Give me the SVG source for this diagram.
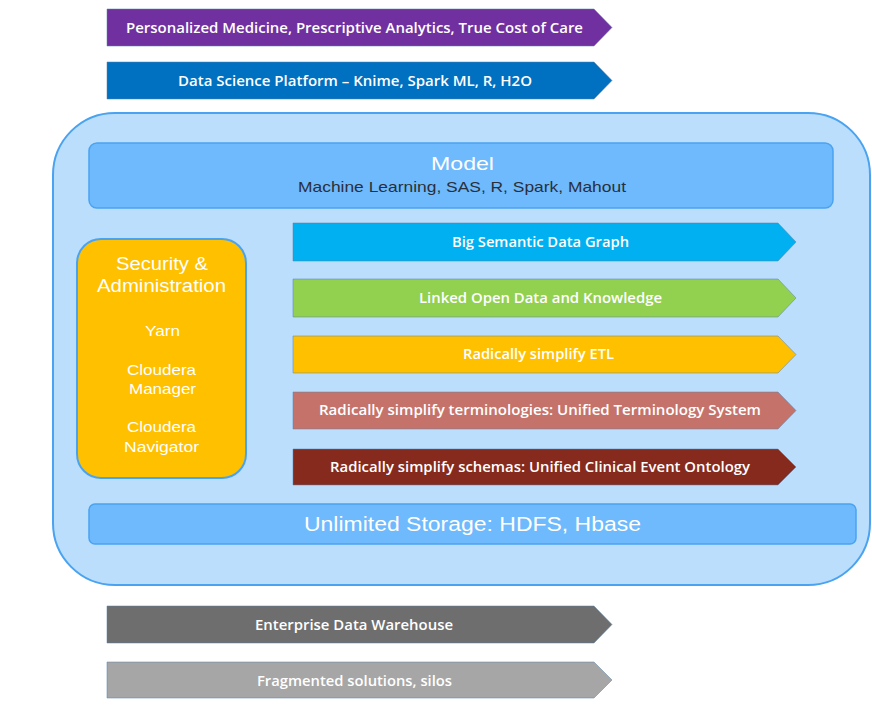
<svg xmlns="http://www.w3.org/2000/svg" width="872" height="707" viewBox="0 0 872 707">
<style>
.at{font-family:"Open Sans","Noto Sans",sans-serif;font-size:14px;font-weight:600;fill:#fff;text-anchor:middle}
.ht{font-family:"Liberation Sans",Arial,sans-serif;fill:#fff;text-anchor:middle}
.arr{stroke:#5a7fa8;stroke-width:1;stroke-opacity:0.5}
</style>
<rect width="872" height="707" fill="#fff"/>
<g id="n-personalized">
<polygon class="arr" points="107,9 594,9 612,27.5 594,46 107,46" fill="#7030A0"/>
<text class="at" x="354.5" y="32.5" textLength="457" lengthAdjust="spacingAndGlyphs">Personalized Medicine, Prescriptive Analytics, True Cost of Care</text>
</g>
<g id="n-datascience">
<polygon class="arr" points="107,62 594,62 612,80.5 594,99 107,99" fill="#0070C0"/>
<text class="at" x="355" y="85.5" textLength="354" lengthAdjust="spacingAndGlyphs">Data Science Platform – Knime, Spark ML, R, H2O</text>
</g>
<g id="n-container">
<rect x="53" y="113" width="817" height="472" rx="62" fill="#BBDEFC" stroke="#4AA3F0" stroke-width="2"/>
</g>
<g id="n-model">
<rect x="89" y="143" width="744" height="65" rx="8" fill="#6EBAFD" stroke="#4AA3F0" stroke-width="1.5"/>
<text class="ht" x="462.5" y="170" font-size="19" textLength="63" lengthAdjust="spacingAndGlyphs">Model</text>
<text class="ht" x="462" y="192" font-size="15" textLength="328" lengthAdjust="spacingAndGlyphs" style="fill:#2a2f3a">Machine Learning, SAS, R, Spark, Mahout</text>
</g>
<g id="n-security">
<rect x="77" y="239" width="169" height="239" rx="24" fill="#FFC000" stroke="#4AA3F0" stroke-width="2"/>
<text class="ht" x="162" y="270" font-size="18" textLength="92" lengthAdjust="spacingAndGlyphs">Security &amp;</text>
<text class="ht" x="161.5" y="292" font-size="18" textLength="129" lengthAdjust="spacingAndGlyphs">Administration</text>
<text class="ht" x="162.5" y="336" font-size="14.5" textLength="35" lengthAdjust="spacingAndGlyphs">Yarn</text>
<text class="ht" x="161.5" y="375" font-size="14.5" textLength="69" lengthAdjust="spacingAndGlyphs">Cloudera</text>
<text class="ht" x="162.5" y="394" font-size="14.5" textLength="67" lengthAdjust="spacingAndGlyphs">Manager</text>
<text class="ht" x="161.5" y="432" font-size="14.5" textLength="69" lengthAdjust="spacingAndGlyphs">Cloudera</text>
<text class="ht" x="161.5" y="452" font-size="14.5" textLength="75" lengthAdjust="spacingAndGlyphs">Navigator</text>
</g>
<g id="n-semantic">
<polygon class="arr" points="293,223 778,223 796,242 778,261 293,261" fill="#00B0F0"/>
<text class="at" x="540.5" y="247" textLength="177" lengthAdjust="spacingAndGlyphs">Big Semantic Data Graph</text>
</g>
<g id="n-linked">
<polygon class="arr" points="293,279 778,279 796,298 778,317 293,317" fill="#92D050"/>
<text class="at" x="540.5" y="303" textLength="243" lengthAdjust="spacingAndGlyphs">Linked Open Data and Knowledge</text>
</g>
<g id="n-etl">
<polygon class="arr" points="293,336 778,336 796,354.5 778,373 293,373" fill="#FFC000"/>
<text class="at" x="538.5" y="359" textLength="151" lengthAdjust="spacingAndGlyphs">Radically simplify  ETL</text>
</g>
<g id="n-terminology">
<polygon class="arr" points="293,392 778,392 796,410.5 778,429 293,429" fill="#C5736A"/>
<text class="at" x="540" y="415" textLength="442" lengthAdjust="spacingAndGlyphs">Radically simplify  terminologies: Unified Terminology System</text>
</g>
<g id="n-schemas">
<polygon class="arr" points="293,449 778,449 796,467 778,485 293,485" fill="#862A1E"/>
<text class="at" x="540" y="472" textLength="420" lengthAdjust="spacingAndGlyphs">Radically simplify schemas: Unified Clinical Event Ontology</text>
</g>
<g id="n-storage">
<rect x="89" y="504" width="767" height="40" rx="6" fill="#6EBAFD" stroke="#4AA3F0" stroke-width="1.5"/>
<text class="ht" x="472.5" y="531" font-size="20" textLength="337" lengthAdjust="spacingAndGlyphs">Unlimited Storage: HDFS, Hbase</text>
</g>
<g id="n-edw">
<polygon class="arr" points="107,606 594,606 612,624.5 594,643 107,643" fill="#6E6E6E"/>
<text class="at" x="354" y="629.5" textLength="198" lengthAdjust="spacingAndGlyphs">Enterprise Data Warehouse</text>
</g>
<g id="n-fragmented">
<polygon class="arr" points="107,662 594,662 612,680 594,698 107,698" fill="#A6A6A6"/>
<text class="at" x="354.5" y="685.5" textLength="195" lengthAdjust="spacingAndGlyphs">Fragmented solutions, silos</text>
</g>
<g id="connectors"></g>
</svg>
